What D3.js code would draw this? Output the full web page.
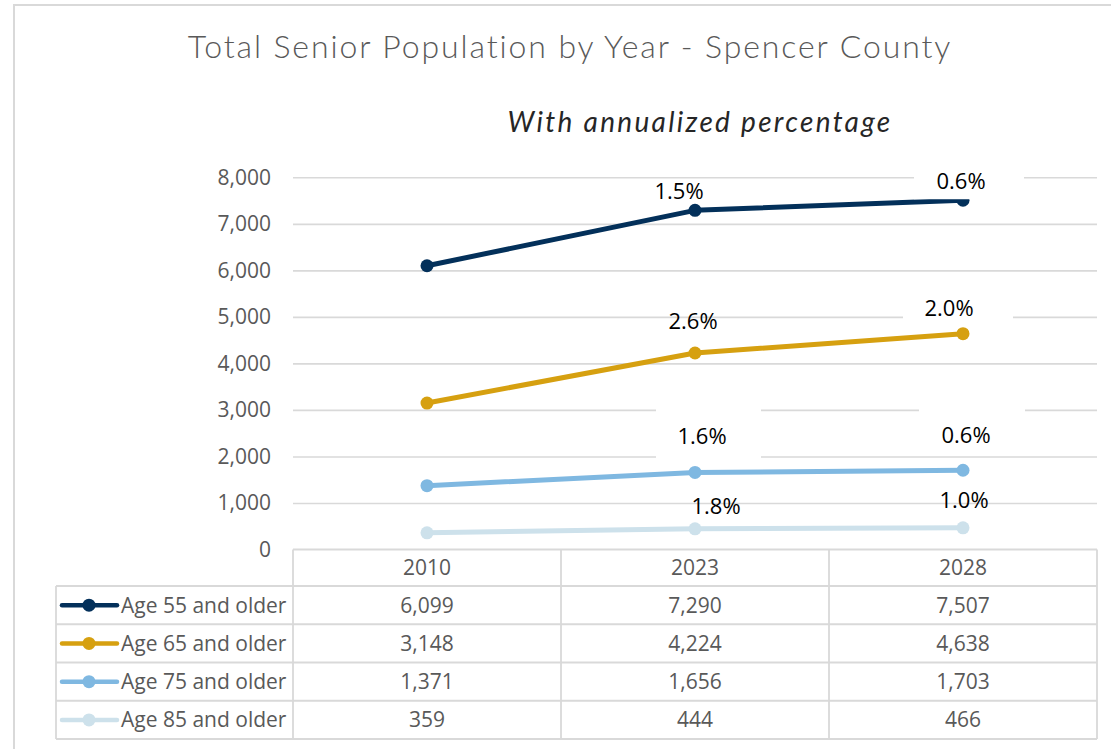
<!DOCTYPE html>
<html>
<head>
<meta charset="utf-8">
<script src="https://cdn.jsdelivr.net/npm/d3@7"></script>
<style>
  html, body { margin: 0; padding: 0; background: #ffffff; }
  svg { display: block; }
</style>
</head>
<body>
<div id="chart"></div>
<script>
// ---- Data -------------------------------------------------------------
const years = ["2010", "2023", "2028"];
const seriesNames = ["Age 55 and older", "Age 65 and older", "Age 75 and older", "Age 85 and older"];
const age55 = [6099, 7290, 7507];
const age65 = [3148, 4224, 4638];
const age75 = [1371, 1656, 1703];
const age85 = [359, 444, 466];
// annualized growth (%) since the previous period shown
const growth55 = [null, 1.5, 0.6];
const growth65 = [null, 2.6, 2.0];
const growth75 = [null, 1.6, 0.6];
const growth85 = [null, 1.8, 1.0];
const yTicks = [0, 1000, 2000, 3000, 4000, 5000, 6000, 7000, 8000];

// ---- Styling / layout -------------------------------------------------
const colors = ["#03305a", "#d6a010", "#7fb8e1", "#cde1eb"];
// label nudges relative to each point (2023, 2028) and optional white backing box
const labelNudge = [
  [{dx: -16, dy: -19}, {dx: -2, dy: -19, box: [-47, -19, 110, 37]}],
  [{dx: -2, dy: -32},  {dx: -14, dy: -26, box: [-46, -19, 110, 37]}],
  [{dx: 7, dy: -36, box: [-46, -33, 105, 56]}, {dx: 3, dy: -35, box: [-47, -30, 106, 47]}],
  [{dx: 21, dy: -23},  {dx: 1, dy: -28}]
];

const W = 1111, H = 749;
const plot = {left: 293, right: 1097, top: 177.3, bottom: 549.5};
const table = {left: 56, headerTop: 549.5, rowsTop: 586, bottom: 739};
const gridColor = "#d9d9d9";
const textColor = "#595959";
const uiFont = "'Open Sans', sans-serif";

const series = [age55, age65, age75, age85].map((vals, i) => ({
  name: seriesNames[i],
  color: colors[i],
  values: vals,
  growth: [growth55, growth65, growth75, growth85][i],
  nudge: labelNudge[i]
}));

const svg = d3.select("#chart").append("svg")
  .attr("width", W).attr("height", H);

// chart frame
svg.append("path")
  .attr("d", `M14,${H} L14,5 L${W},5`)
  .attr("fill", "none").attr("stroke", gridColor).attr("stroke-width", 2);

// titles
svg.append("text")
  .attr("x", 570).attr("y", 58)
  .attr("text-anchor", "middle")
  .attr("font-family", "Lato, sans-serif").attr("font-weight", 300)
  .attr("font-size", 32).attr("letter-spacing", 1.9).attr("fill", textColor)
  .text("Total Senior Population by Year - Spencer County");

svg.append("text")
  .attr("x", 700).attr("y", 132)
  .attr("text-anchor", "middle")
  .attr("font-family", "Lato, sans-serif").attr("font-style", "italic")
  .attr("font-size", 28).attr("letter-spacing", 2.3).attr("fill", "#262626")
  .text("With annualized percentage");

// ---- Scales -----------------------------------------------------------
const x = d3.scaleBand().domain(years).range([plot.left, plot.right]);
const cx = d => x(d) + x.bandwidth() / 2;
const y = d3.scaleLinear().domain([0, 8000]).range([plot.bottom, plot.top]);

// gridlines + value axis labels
const yAxis = d3.axisLeft(y).tickValues(yTicks).tickFormat(d3.format(","))
  .tickSize(-(plot.right - plot.left)).tickPadding(22);
const ga = svg.append("g").attr("transform", `translate(${plot.left},0)`).call(yAxis);
ga.select(".domain").remove();
ga.selectAll(".tick line").attr("stroke", gridColor).attr("stroke-width", 1.6)
  .filter(d => d === 0).remove();
ga.selectAll(".tick text")
  .attr("font-family", uiFont).attr("font-size", 21).attr("fill", textColor);

// ---- Lines and markers -------------------------------------------------
const line = d3.line().x((d, i) => cx(years[i])).y(d => y(d));
const gs = svg.append("g").selectAll("g").data(series).join("g");
gs.append("path")
  .attr("d", d => line(d.values))
  .attr("fill", "none").attr("stroke", d => d.color)
  .attr("stroke-width", 5).attr("stroke-linejoin", "round");
gs.selectAll("circle").data(d => d.values.map((v, i) => ({v, i, c: d.color})))
  .join("circle")
  .attr("cx", d => cx(years[d.i])).attr("cy", d => y(d.v))
  .attr("r", 6.5).attr("fill", d => d.c);

// ---- Growth labels ----------------------------------------------------
const labels = [];
series.forEach(s => {
  s.growth.forEach((g, i) => {
    if (g == null) return;
    const n = s.nudge[i - 1];
    labels.push({
      text: d3.format(".1f")(g) + "%",
      x: cx(years[i]) + n.dx,
      y: y(s.values[i]) + n.dy,
      box: n.box
    });
  });
});
const gl = svg.append("g");
gl.selectAll("rect").data(labels.filter(d => d.box)).join("rect")
  .attr("x", d => d.x + d.box[0]).attr("y", d => d.y + d.box[1])
  .attr("width", d => d.box[2]).attr("height", d => d.box[3])
  .attr("fill", "#ffffff");
gl.selectAll("text").data(labels).join("text")
  .attr("x", d => d.x).attr("y", d => d.y).attr("dy", "0.36em")
  .attr("text-anchor", "middle")
  .attr("font-family", uiFont).attr("font-size", 22).attr("fill", "#000000")
  .text(d => d.text);

// ---- Data table -------------------------------------------------------
const rowBand = d3.scaleBand().domain(seriesNames).range([table.rowsTop, table.bottom]);
const gt = svg.append("g").attr("stroke", gridColor).attr("stroke-width", 1.8).attr("fill", "none");
// header row border
gt.append("line").attr("x1", plot.left).attr("x2", plot.right)
  .attr("y1", table.headerTop).attr("y2", table.headerTop);
// row borders
gt.selectAll("line.row").data(seriesNames.concat(["__end"])).join("line")
  .attr("class", "row")
  .attr("x1", table.left).attr("x2", plot.right)
  .attr("y1", d => d === "__end" ? table.bottom : rowBand(d))
  .attr("y2", d => d === "__end" ? table.bottom : rowBand(d));
// column borders
gt.selectAll("line.col").data([plot.left].concat(years.map(yr => x(yr) + x.bandwidth()))).join("line")
  .attr("class", "col")
  .attr("x1", d => d).attr("x2", d => d)
  .attr("y1", table.headerTop).attr("y2", table.bottom);
gt.append("line").attr("x1", table.left).attr("x2", table.left)
  .attr("y1", table.rowsTop).attr("y2", table.bottom);

// header labels
svg.append("g").selectAll("text").data(years).join("text")
  .attr("x", d => cx(d)).attr("y", (table.headerTop + table.rowsTop) / 2).attr("dy", "0.36em")
  .attr("text-anchor", "middle")
  .attr("font-family", uiFont).attr("font-size", 21).attr("fill", textColor)
  .text(d => d);

// series rows: legend key, name and values
const rows = svg.append("g").selectAll("g").data(series).join("g")
  .attr("transform", d => `translate(0,${rowBand(d.name) + rowBand.bandwidth() / 2})`);
rows.append("line").attr("x1", 62).attr("x2", 117).attr("y1", 0).attr("y2", 0)
  .attr("stroke", d => d.color).attr("stroke-width", 4.5).attr("stroke-linecap", "round");
rows.append("circle").attr("cx", 89).attr("cy", 0).attr("r", 6.5).attr("fill", d => d.color);
rows.append("text").attr("x", 121).attr("dy", "0.36em")
  .attr("font-family", uiFont).attr("font-size", 21).attr("fill", textColor)
  .text(d => d.name);
rows.selectAll("text.val").data(d => d.values).join("text")
  .attr("class", "val")
  .attr("x", (d, i) => cx(years[i])).attr("dy", "0.36em")
  .attr("text-anchor", "middle")
  .attr("font-family", uiFont).attr("font-size", 21).attr("fill", textColor)
  .text(d => d3.format(",")(d));
</script>
</body>
</html>
